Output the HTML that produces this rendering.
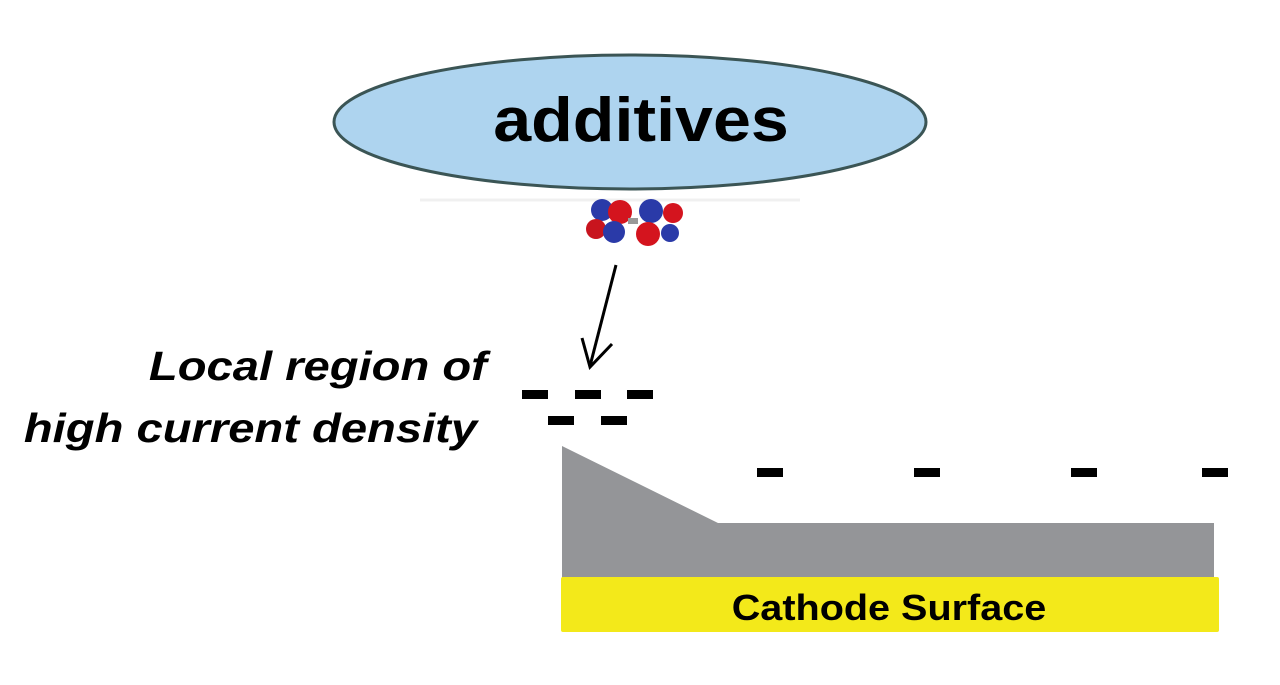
<!DOCTYPE html>
<html><head><style>
body{margin:0;background:#fff;width:1280px;height:685px;overflow:hidden;position:relative;font-family:"Liberation Sans",sans-serif}
.t{position:absolute;font-style:italic;font-weight:bold;font-size:41px;color:#000;white-space:nowrap;transform-origin:right center;transform:scaleX(1.15)}
</style></head><body>
<svg width="1280" height="685" style="position:absolute;left:0;top:0">
<ellipse cx="630" cy="122" rx="296" ry="67" fill="#aed4ef" stroke="#3b5555" stroke-width="3"/>
<text x="0" y="0" text-anchor="middle" font-family="Liberation Sans" font-size="62" font-weight="bold" fill="#000" transform="translate(641,141) scale(1.1,1)">additives</text>
<line x1="420" y1="200" x2="800" y2="200" stroke="#f0f0f0" stroke-width="3"/>
<g>
<circle cx="602" cy="210" r="11" fill="#2a3aa8"/>
<circle cx="620" cy="212" r="12" fill="#d4141e"/>
<circle cx="596" cy="229" r="10" fill="#c8141e"/>
<circle cx="614" cy="232" r="11" fill="#2a3aa8"/>
<circle cx="651" cy="211" r="12" fill="#2a3aa8"/>
<circle cx="673" cy="213" r="10" fill="#d4141e"/>
<circle cx="648" cy="234" r="12" fill="#d4141e"/>
<circle cx="670" cy="233" r="9" fill="#2a3aa8"/>
<rect x="628" y="218" width="10" height="6" fill="#999"/>
</g>
<line x1="616" y1="265" x2="590" y2="366" stroke="#000" stroke-width="3"/>
<polyline points="582,338 590,367 612,344" fill="none" stroke="#000" stroke-width="3"/>
<g fill="#000">
<rect x="522" y="390" width="26" height="9"/><rect x="575" y="390" width="26" height="9"/><rect x="627" y="390" width="26" height="9"/>
<rect x="548" y="416" width="26" height="9"/><rect x="601" y="416" width="26" height="9"/>
<rect x="757" y="468" width="26" height="9"/><rect x="914" y="468" width="26" height="9"/><rect x="1071" y="468" width="26" height="9"/><rect x="1202" y="468" width="26" height="9"/>
</g>
<polygon points="562,446 718,523 1214,523 1214,578 562,578" fill="#949598"/>
<rect x="561" y="577" width="658" height="55" rx="2" fill="#f3e91a"/>
<text x="0" y="0" text-anchor="middle" font-family="Liberation Sans" font-size="36" font-weight="bold" fill="#000" transform="translate(889,620) scale(1.1,1)">Cathode Surface</text>
</svg>
<div class="t" style="right:793px;top:343px">Local region of</div>
<div class="t" style="right:803px;top:405px">high current density</div>
</body></html>
